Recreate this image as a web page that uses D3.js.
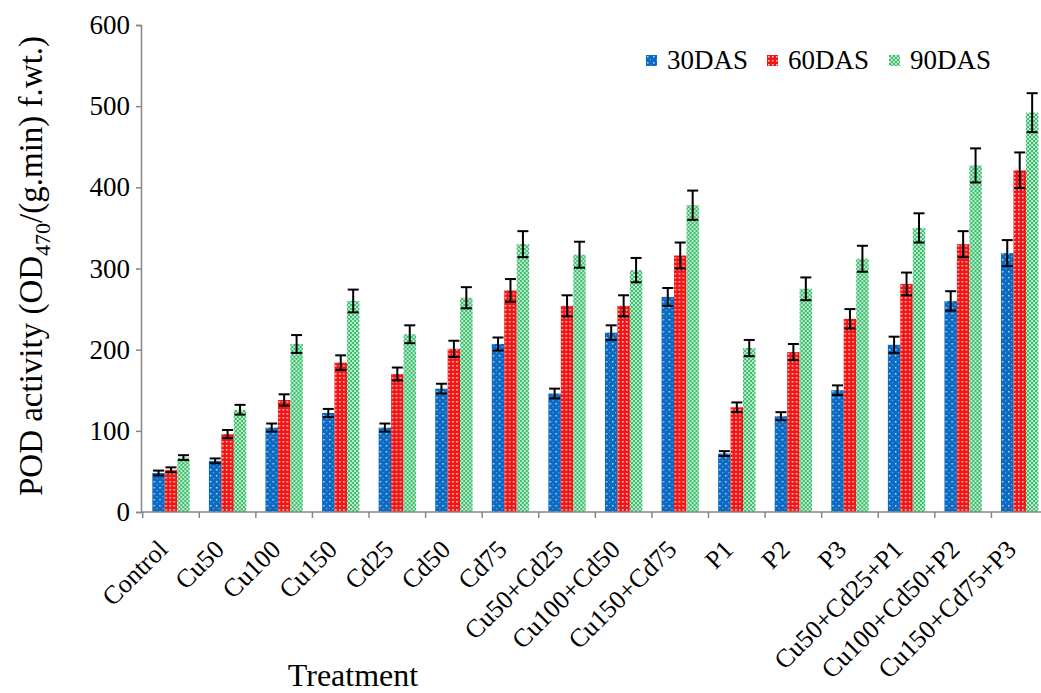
<!DOCTYPE html>
<html>
<head>
<meta charset="utf-8">
<script src="https://cdn.jsdelivr.net/npm/d3@7"></script>
<style>
  body { margin: 0; background: #fff; }
  text { font-family: "Liberation Serif", "Times New Roman", serif; fill: #000; }
</style>
</head>
<body>
<svg id="chart" width="1041" height="693"></svg>
<script>
// Treatments (x categories)
const treatments = [
  "Control", "Cu50", "Cu100", "Cu150", "Cd25", "Cd50", "Cd75",
  "Cu50+Cd25", "Cu100+Cd50", "Cu150+Cd75", "P1", "P2", "P3",
  "Cu50+Cd25+P1", "Cu100+Cd50+P2", "Cu150+Cd75+P3"
];
const seriesNames = ["30DAS", "60DAS", "90DAS"];

// POD activity values
const das30 = [48, 63, 104, 122, 104, 152, 207, 146, 221, 265, 72, 118, 150, 206, 260, 319];
const das60 = [52, 96, 138, 184, 170, 201, 273, 254, 254, 316, 129, 197, 238, 281, 330, 421];
const das90 = [67, 126, 207, 260, 219, 264, 330, 317, 298, 378, 202, 275, 312, 350, 427, 492];

// Error bar half-lengths
const err30 = [3, 3, 5, 5, 5, 6, 8, 6, 9, 11, 3, 5, 6, 10, 12, 16];
const err60 = [3, 5, 7, 9, 8, 10, 14, 13, 13, 16, 6, 10, 12, 14, 16, 22];
const err90 = [3, 6, 11, 14, 11, 13, 16, 16, 15, 18, 10, 14, 16, 18, 21, 24];

const yTicks = [0, 100, 200, 300, 400, 500, 600];

const svg = d3.select("#chart");
const axisColor = "#868686";

// plot area (right side runs past the window edge, as in the original)
const plotLeft = 141, plotRight = 1048, plotTop = 25, plotBottom = 512;

const x0 = d3.scaleBand()
  .domain(treatments)
  .range([plotLeft + 1.7, plotRight])
  .paddingInner(0.34)
  .paddingOuter(0.17);

const x1 = d3.scaleBand()
  .domain(seriesNames)
  .range([0, x0.bandwidth()]);

const y = d3.scaleLinear().domain([0, 600]).range([plotBottom, plotTop]);

// fill patterns
const defs = svg.append("defs");

const pBlue = defs.append("pattern")
  .attr("id", "pat30").attr("patternUnits", "userSpaceOnUse")
  .attr("width", 6).attr("height", 6);
pBlue.append("rect").attr("width", 6).attr("height", 6).attr("fill", "#0b6bc2");
pBlue.append("rect").attr("x", 1).attr("y", 1).attr("width", 1.5).attr("height", 1.5).attr("fill", "#b8d4f2");
pBlue.append("rect").attr("x", 4).attr("y", 4).attr("width", 1.2).attr("height", 1.2).attr("fill", "#6fa3dc");

const pRed = defs.append("pattern")
  .attr("id", "pat60").attr("patternUnits", "userSpaceOnUse")
  .attr("width", 4).attr("height", 4);
pRed.append("rect").attr("width", 4).attr("height", 4).attr("fill", "#f41414");
pRed.append("rect").attr("x", 1).attr("y", 1).attr("width", 1.6).attr("height", 1.6).attr("fill", "#fbc4c4");

const pGreen = defs.append("pattern")
  .attr("id", "pat90").attr("patternUnits", "userSpaceOnUse")
  .attr("width", 4).attr("height", 4);
pGreen.append("rect").attr("width", 4).attr("height", 4).attr("fill", "#b9ebcb");
pGreen.append("rect").attr("x", 0).attr("y", 0).attr("width", 2).attr("height", 2).attr("fill", "#3dbd6e");
pGreen.append("rect").attr("x", 2).attr("y", 2).attr("width", 2).attr("height", 2).attr("fill", "#3dbd6e");

const fills = { "30DAS": "url(#pat30)", "60DAS": "url(#pat60)", "90DAS": "url(#pat90)" };

// build rows for drawing
const rows = treatments.map((t, i) => ({
  treatment: t,
  values: [
    { key: "30DAS", value: das30[i], err: err30[i] },
    { key: "60DAS", value: das60[i], err: err60[i] },
    { key: "90DAS", value: das90[i], err: err90[i] }
  ]
}));

// Y axis
const yAxis = svg.append("g")
  .attr("transform", `translate(${plotLeft},0)`)
  .call(d3.axisLeft(y).tickValues(yTicks).tickSize(5).tickPadding(6));
yAxis.select(".domain").attr("stroke", axisColor).attr("stroke-width", 1.5);
yAxis.selectAll(".tick line").attr("stroke", axisColor).attr("stroke-width", 1.5);
yAxis.selectAll(".tick text")
  .style("font-family", "Liberation Serif")
  .style("font-size", "27px")
  .attr("fill", "#000");

// bars
const groups = svg.append("g")
  .selectAll("g")
  .data(rows)
  .join("g")
  .attr("transform", (d) => `translate(${x0(d.treatment)},0)`);

groups.selectAll("rect")
  .data((d) => d.values)
  .join("rect")
  .attr("x", (d) => x1(d.key))
  .attr("y", (d) => y(d.value))
  .attr("width", x1.bandwidth())
  .attr("height", (d) => y(0) - y(d.value))
  .attr("fill", (d) => fills[d.key]);

// error bars
const capW = 11;
const eb = groups.selectAll("g.err")
  .data((d) => d.values)
  .join("g")
  .attr("class", "err")
  .attr("stroke", "#000")
  .attr("stroke-width", 2);

eb.append("line")
  .attr("x1", (d) => x1(d.key) + x1.bandwidth() / 2)
  .attr("x2", (d) => x1(d.key) + x1.bandwidth() / 2)
  .attr("y1", (d) => y(d.value - d.err))
  .attr("y2", (d) => y(d.value + d.err));
eb.append("line")
  .attr("x1", (d) => x1(d.key) + x1.bandwidth() / 2 - capW / 2)
  .attr("x2", (d) => x1(d.key) + x1.bandwidth() / 2 + capW / 2)
  .attr("y1", (d) => y(d.value + d.err))
  .attr("y2", (d) => y(d.value + d.err));
eb.append("line")
  .attr("x1", (d) => x1(d.key) + x1.bandwidth() / 2 - capW / 2)
  .attr("x2", (d) => x1(d.key) + x1.bandwidth() / 2 + capW / 2)
  .attr("y1", (d) => y(d.value - d.err))
  .attr("y2", (d) => y(d.value - d.err));

// X axis (ticks at category boundaries)
const xAxisG = svg.append("g").attr("transform", `translate(0,${plotBottom})`);
xAxisG.append("line")
  .attr("x1", plotLeft).attr("x2", plotRight)
  .attr("stroke", axisColor).attr("stroke-width", 1.5);
const step = x0.step();
xAxisG.selectAll("line.tk")
  .data(d3.range(treatments.length + 1))
  .join("line")
  .attr("class", "tk")
  .attr("x1", (i) => x0(treatments[0]) - x0.paddingOuter() * step + i * step)
  .attr("x2", (i) => x0(treatments[0]) - x0.paddingOuter() * step + i * step)
  .attr("y1", 0).attr("y2", 6)
  .attr("stroke", axisColor).attr("stroke-width", 1.5);

xAxisG.selectAll("text")
  .data(treatments)
  .join("text")
  .attr("transform", (d) => `translate(${x0(d) + x0.bandwidth() / 2 - 2},${39}) rotate(-45)`)
  .attr("text-anchor", "end")
  .style("font-size", "26px")
  .text((d) => d);

// axis titles
svg.append("text")
  .attr("x", 353).attr("y", 686)
  .attr("text-anchor", "middle")
  .style("font-size", "32px")
  .text("Treatment");

const yTitle = svg.append("text")
  .attr("transform", `translate(42,266) rotate(-90)`)
  .attr("text-anchor", "middle")
  .style("font-size", "33px");
yTitle.append("tspan").text("POD activity (OD");
yTitle.append("tspan").attr("dy", 8).style("font-size", "22px").text("470");
yTitle.append("tspan").attr("dy", -8).text("/(g.min) f.wt.)");

// legend
const legendX = [646, 767, 889];
const legend = svg.append("g")
  .selectAll("g")
  .data(seriesNames)
  .join("g")
  .attr("transform", (d, i) => `translate(${legendX[i]},55)`);
legend.append("rect")
  .attr("width", 11).attr("height", 11)
  .attr("fill", (d) => fills[d]);
legend.append("text")
  .attr("x", 21).attr("y", 14)
  .style("font-size", "27px")
  .text((d) => d);
</script>
</body>
</html>
